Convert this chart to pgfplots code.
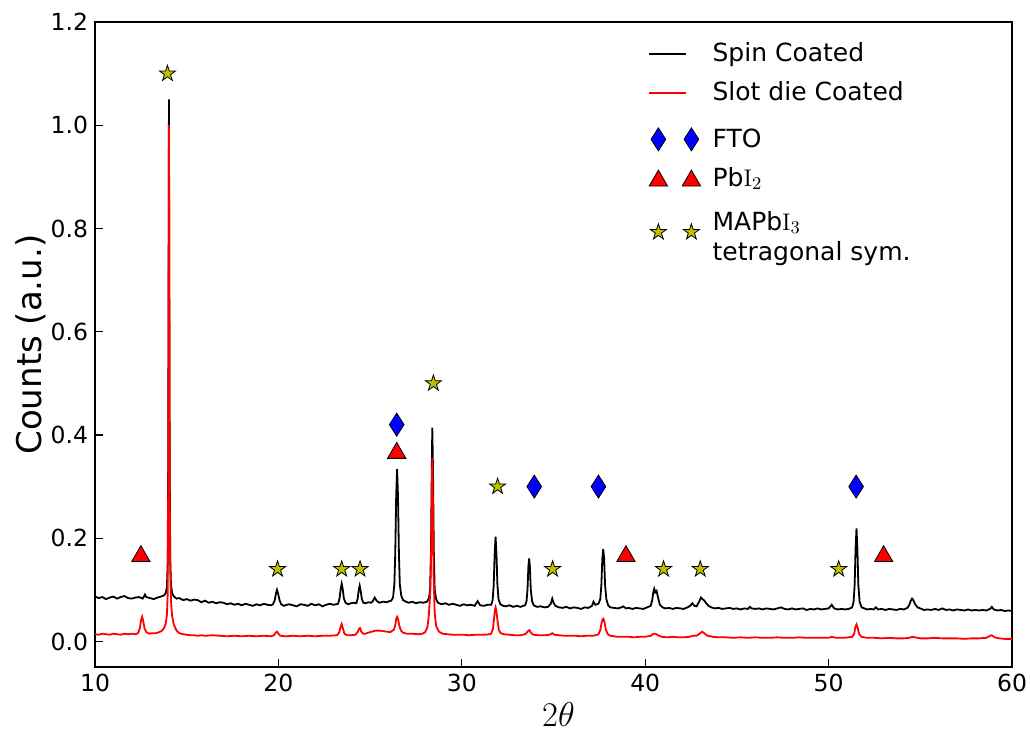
\documentclass[border=0pt]{standalone}
\usepackage[no-math]{fontspec}
\setmainfont{DejaVu Sans}
\usepackage{pgfplots}
\pgfplotsset{compat=1.18}
\definecolor{staryellow}{rgb}{0.75,0.75,0}

% filled five-pointed star, like matplotlib's '*'
\pgfdeclareplotmark{fstar}{%
  \pgfpathmoveto{\pgfpointpolar{90}{\pgfplotmarksize}}%
  \pgfpathlineto{\pgfpointpolar{126}{0.382\pgfplotmarksize}}%
  \pgfpathlineto{\pgfpointpolar{162}{\pgfplotmarksize}}%
  \pgfpathlineto{\pgfpointpolar{198}{0.382\pgfplotmarksize}}%
  \pgfpathlineto{\pgfpointpolar{234}{\pgfplotmarksize}}%
  \pgfpathlineto{\pgfpointpolar{270}{0.382\pgfplotmarksize}}%
  \pgfpathlineto{\pgfpointpolar{306}{\pgfplotmarksize}}%
  \pgfpathlineto{\pgfpointpolar{342}{0.382\pgfplotmarksize}}%
  \pgfpathlineto{\pgfpointpolar{18}{\pgfplotmarksize}}%
  \pgfpathlineto{\pgfpointpolar{54}{0.382\pgfplotmarksize}}%
  \pgfpathclose
  \pgfusepathqfillstroke}

\pgfplotsset{
  linelegend/.style={legend image code/.code={\draw[##1] (0cm,0cm) -- (0.65cm,0cm);}},
  marklegend/.style={legend image code/.code={\draw[##1] plot coordinates {(0.16cm,0cm) (0.74cm,0cm)};}},
  marklegendtall/.style={legend image code/.code={\path (0cm,0cm) (0cm,11pt); \draw[##1] plot coordinates {(0.16cm,0cm) (0.74cm,0cm)};}},
}

\begin{document}
\begin{tikzpicture}
\begin{axis}[
    name=ax,
    scale only axis,
    width=458.3pt, height=322.5pt,
    xmin=10, xmax=60, ymin=-0.05, ymax=1.2,
    xtick={10,20,...,60},
    ytick={0,0.2,...,1.2},
    yticklabel style={/pgf/number format/.cd, fixed, fixed zerofill, precision=1},
    /pgf/number format/assume math mode=true,
    tick label style={font=\fontsize{11.75}{13}\selectfont},
    tick align=inside,
    xtick pos=left, ytick pos=left,
    major tick length=4pt,
    tick style={black, line width=0.6pt},
    axis line style={line width=1pt},
    xlabel={$2\theta$},
    ylabel={Counts (a.u.)},
    xlabel style={font=\fontsize{16}{18}\selectfont, at={(axis description cs:0.5,0)}, anchor=center, inner sep=0pt, yshift=-23.6pt, xshift=2.5pt},
    ylabel style={font=\fontsize{17}{20}\selectfont, at={(axis description cs:-0.0699,0.5)}, anchor=center},
    legend style={draw=none, fill=none, at={(axis cs:40.15,1.168)}, anchor=north west,
        font=\fontsize{12.5}{15}\selectfont, row sep=4.5pt, column sep=4pt, inner sep=0pt},
    legend cell align=left,
]
\addplot[black, line width=0.9pt, linelegend] coordinates {
(10.0,.087) (10.2,.084) (10.4,.086) (10.6,.082) (10.8,.085) (11.0,.087) (11.2,.083) (11.4,.086) (11.6,.088) (11.8,.084)
(12.0,.083) (12.2,.085) (12.4,.086) (12.6,.083) (12.65,.086) (12.72,.091) (12.8,.086) (13.0,.084) (13.2,.082) (13.4,.085)
(13.6,.087) (13.75,.089) (13.85,.093) (13.92,.105) (13.96,.15) (13.99,.35) (14.01,.7) (14.03,1.05) (14.05,.7) (14.07,.35)
(14.1,.16) (14.14,.11) (14.2,.094) (14.3,.087) (14.45,.083) (14.6,.084) (14.8,.080) (15.0,.082) (15.2,.079) (15.4,.081)
(15.6,.080) (15.8,.076) (16.0,.079) (16.2,.075) (16.4,.077) (16.6,.074) (16.8,.076) (17.0,.075) (17.2,.072) (17.4,.074)
(17.6,.071) (17.8,.073) (18.0,.070) (18.2,.073) (18.4,.071) (18.6,.069) (18.8,.072) (19.0,.070) (19.2,.073) (19.4,.071)
(19.6,.070) (19.7,.072) (19.8,.080) (19.87,.094) (19.92,.100) (19.98,.093) (20.06,.080) (20.15,.072) (20.3,.069) (20.45,.071)
(20.6,.072) (20.8,.070) (21.0,.068) (21.2,.072) (21.4,.071) (21.6,.069) (21.8,.073) (22.0,.070) (22.2,.072) (22.4,.068)
(22.6,.071) (22.8,.073) (23.0,.071) (23.15,.072) (23.25,.073) (23.33,.083) (23.4,.103) (23.45,.112) (23.5,.103) (23.57,.083)
(23.66,.075) (23.8,.072) (23.95,.074) (24.1,.075) (24.25,.074) (24.32,.083) (24.38,.100) (24.43,.108) (24.48,.099) (24.55,.082)
(24.63,.075) (24.75,.074) (24.9,.076) (25.05,.075) (25.15,.078) (25.25,.085) (25.35,.079) (25.5,.075) (25.7,.077) (25.9,.076)
(26.05,.078) (26.15,.079) (26.25,.085) (26.32,.11) (26.37,.17) (26.42,.28) (26.47,.334) (26.52,.28) (26.57,.17) (26.62,.11)
(26.7,.088) (26.8,.080) (26.95,.077) (27.1,.075) (27.3,.077) (27.5,.074) (27.7,.076) (27.9,.075) (28.0,.076) (28.1,.077)
(28.2,.083) (28.27,.10) (28.32,.18) (28.36,.33) (28.39,.414) (28.43,.33) (28.47,.18) (28.52,.10) (28.6,.082) (28.7,.075)
(28.9,.072) (29.1,.074) (29.3,.071) (29.5,.073) (29.7,.071) (29.9,.069) (30.1,.072) (30.3,.070) (30.5,.071) (30.7,.069)
(30.86,.078) (31.0,.070) (31.2,.069) (31.4,.071) (31.6,.071) (31.68,.080) (31.74,.11) (31.79,.17) (31.84,.203) (31.89,.17)
(31.94,.11) (32.0,.082) (32.1,.072) (32.25,.069) (32.4,.068) (32.6,.070) (32.8,.067) (33.0,.069) (33.2,.067) (33.35,.069)
(33.45,.070) (33.53,.078) (33.58,.10) (33.63,.145) (33.67,.161) (33.71,.145) (33.76,.10) (33.83,.078) (33.92,.070) (34.1,.067)
(34.3,.068) (34.5,.066) (34.7,.067) (34.85,.073) (34.93,.083) (35.0,.075) (35.1,.069) (35.3,.066) (35.5,.065) (35.7,.067)
(35.9,.064) (36.1,.066) (36.3,.065) (36.5,.063) (36.7,.066) (36.9,.065) (37.1,.069) (37.18,.077) (37.28,.071) (37.37,.072)
(37.45,.073) (37.55,.082) (37.61,.11) (37.66,.16) (37.71,.179) (37.76,.16) (37.81,.11) (37.88,.082) (37.98,.070) (38.1,.066)
(38.3,.065) (38.5,.064) (38.7,.066) (38.8,.068) (38.95,.064) (39.1,.065) (39.3,.063) (39.5,.065) (39.7,.064) (39.9,.063)
(40.1,.066) (40.3,.069) (40.38,.080) (40.44,.095) (40.49,.102) (40.55,.095) (40.62,.098) (40.7,.085) (40.8,.071) (40.95,.066)
(41.1,.064) (41.3,.065) (41.5,.063) (41.7,.065) (41.9,.064) (42.1,.063) (42.3,.066) (42.45,.069) (42.57,.074) (42.68,.069)
(42.8,.068) (42.95,.078) (43.04,.085) (43.12,.082) (43.2,.080) (43.3,.075) (43.45,.069) (43.6,.066) (43.8,.064) (44.0,.065)
(44.2,.063) (44.4,.064) (44.6,.065) (44.8,.063) (45.0,.064) (45.2,.062) (45.4,.064) (45.6,.063) (45.7,.067) (45.8,.064)
(46.0,.063) (46.2,.064) (46.4,.062) (46.6,.064) (46.8,.063) (47.0,.062) (47.2,.064) (47.4,.066) (47.6,.063) (47.8,.062)
(48.0,.064) (48.2,.062) (48.4,.063) (48.6,.064) (48.8,.061) (49.0,.063) (49.2,.062) (49.4,.064) (49.6,.062) (49.8,.063)
(50.0,.064) (50.17,.071) (50.3,.064) (50.5,.062) (50.7,.063) (50.9,.062) (51.1,.063) (51.28,.066) (51.36,.076) (51.42,.11)
(51.47,.18) (51.52,.219) (51.57,.18) (51.62,.11) (51.69,.077) (51.8,.066) (51.95,.064) (52.1,.062) (52.3,.063) (52.45,.062)
(52.57,.066) (52.7,.062) (52.9,.063) (53.1,.061) (53.3,.063) (53.5,.062) (53.7,.061) (53.9,.063) (54.1,.062) (54.3,.065)
(54.4,.071) (54.48,.079) (54.55,.083) (54.62,.080) (54.72,.072) (54.85,.066) (55.0,.064) (55.2,.061) (55.4,.062) (55.6,.061)
(55.8,.063) (56.0,.061) (56.2,.064) (56.4,.061) (56.6,.062) (56.8,.060) (57.0,.062) (57.2,.061) (57.4,.060) (57.6,.062)
(57.8,.060) (58.0,.061) (58.2,.060) (58.4,.061) (58.6,.060) (58.8,.063) (58.9,.067) (59.0,.062) (59.2,.060) (59.4,.061)
(59.6,.059) (59.8,.060) (60.0,.059)
};
\addlegendentry{Spin Coated}
\addplot[red, line width=0.9pt, linelegend] coordinates {
(10.0,.014) (10.2,.013) (10.4,.015) (10.6,.014) (10.8,.013) (11.0,.015) (11.2,.014) (11.4,.013) (11.6,.015) (11.8,.014)
(12.0,.015) (12.2,.014) (12.35,.016) (12.45,.027) (12.52,.043) (12.57,.048) (12.62,.041) (12.7,.025) (12.8,.018) (12.95,.015)
(13.1,.016) (13.3,.016) (13.5,.018) (13.65,.021) (13.75,.025) (13.85,.034) (13.92,.052) (13.96,.09) (13.99,.3) (14.01,.65)
(14.03,1.0) (14.05,.65) (14.07,.3) (14.1,.14) (14.14,.08) (14.2,.05) (14.3,.032) (14.45,.021) (14.6,.016) (14.8,.014)
(15.0,.013) (15.2,.012) (15.4,.012) (15.6,.011) (15.8,.012) (16.0,.011) (16.4,.012) (16.8,.011) (17.2,.010) (17.6,.011)
(18.0,.010) (18.4,.011) (18.8,.010) (19.2,.011) (19.6,.010) (19.75,.012) (19.85,.017) (19.92,.019) (20.0,.015) (20.1,.011)
(20.4,.010) (20.8,.011) (21.2,.010) (21.6,.011) (22.0,.010) (22.4,.011) (22.8,.011) (23.2,.012) (23.32,.018) (23.4,.030)
(23.45,.034) (23.51,.026) (23.6,.015) (23.75,.012) (23.95,.012) (24.2,.013) (24.32,.018) (24.4,.025) (24.45,.026) (24.52,.019)
(24.62,.015) (24.75,.015) (24.9,.017) (25.1,.019) (25.3,.021) (25.5,.021) (25.7,.020) (25.9,.019) (26.1,.018) (26.3,.023)
(26.38,.033) (26.43,.045) (26.47,.048) (26.52,.044) (26.58,.032) (26.68,.021) (26.8,.017) (27.0,.015) (27.3,.015) (27.6,.014)
(27.85,.015) (28.0,.018) (28.12,.027) (28.2,.05) (28.27,.09) (28.32,.15) (28.36,.28) (28.39,.355) (28.42,.28) (28.46,.13)
(28.52,.055) (28.6,.03) (28.75,.019) (28.95,.015) (29.2,.014) (29.5,.013) (29.8,.013) (30.1,.013) (30.4,.012) (30.7,.013)
(31.0,.013) (31.3,.013) (31.5,.014) (31.6,.015) (31.7,.025) (31.76,.046) (31.81,.062) (31.84,.066) (31.88,.060) (31.94,.042)
(32.02,.022) (32.12,.016) (32.3,.014) (32.6,.013) (32.9,.012) (33.2,.012) (33.45,.014) (33.56,.018) (33.64,.021) (33.69,.022)
(33.76,.017) (33.9,.013) (34.2,.012) (34.5,.012) (34.8,.013) (34.93,.016) (35.05,.013) (35.3,.012) (35.6,.011) (35.9,.011)
(36.2,.011) (36.5,.010) (36.8,.011) (37.1,.011) (37.3,.012) (37.45,.014) (37.55,.022) (37.62,.036) (37.68,.043) (37.72,.044)
(37.78,.037) (37.86,.022) (37.96,.014) (38.1,.011) (38.3,.010) (38.5,.009) (38.8,.009) (39.1,.009) (39.4,.008) (39.7,.009)
(40.0,.009) (40.3,.011) (40.45,.015) (40.55,.015) (40.7,.012) (40.9,.009) (41.2,.008) (41.5,.009) (41.8,.008) (42.1,.008)
(42.4,.009) (42.6,.011) (42.8,.011) (43.0,.016) (43.1,.019) (43.25,.015) (43.4,.011) (43.7,.009) (44.0,.008) (44.4,.008)
(44.8,.007) (45.2,.008) (45.6,.007) (46.0,.008) (46.4,.007) (46.8,.007) (47.2,.008) (47.6,.007) (48.0,.007) (48.4,.008)
(48.8,.007) (49.2,.007) (49.6,.007) (50.0,.007) (50.17,.009) (50.4,.007) (50.8,.007) (51.1,.008) (51.3,.009) (51.4,.016)
(51.46,.028) (51.52,.033) (51.58,.027) (51.66,.015) (51.78,.009) (51.95,.008) (52.1,.007) (52.5,.007) (52.9,.006) (53.3,.007)
(53.7,.006) (54.1,.006) (54.4,.007) (54.55,.009) (54.7,.008) (55.0,.006) (55.4,.006) (55.8,.007) (56.2,.006) (56.6,.006)
(57.0,.006) (57.4,.005) (57.8,.006) (58.2,.006) (58.6,.007) (58.8,.011) (58.9,.012) (59.05,.008) (59.3,.006) (59.6,.005)
(60.0,.005)
};
\addlegendentry{Slot die Coated}
% FTO
\addplot[only marks, mark=diamond*, mark size=5.75pt, mark options={xscale=0.85, fill=blue, draw=black, line width=0.4pt}, marklegendtall] coordinates {
(26.45,0.42) (33.95,0.30) (37.45,0.30) (51.5,0.30)
};
\addlegendentry{FTO}
% PbI2
\addplot[only marks, mark=triangle*, mark size=5.3pt, mark options={yshift=-1.3pt, fill=red, draw=black, line width=0.4pt}, marklegend] coordinates {
(12.5,0.17) (26.45,0.37) (38.95,0.17) (53.0,0.17)
};
\addlegendentry{Pb$\mathrm{I}_2$}
% MAPbI3
\addplot[only marks, mark=fstar, mark size=4.2pt, mark options={fill=staryellow, draw=black, line width=0.4pt}, marklegend] coordinates {
(13.95,1.1) (19.95,0.14) (23.45,0.14) (24.45,0.14) (28.45,0.5) (31.95,0.3) (34.95,0.14) (41.0,0.14) (43.0,0.14) (50.55,0.14)
};
\addlegendentry{\raisebox{-2.5pt}[24.5pt][4.5pt]{\begin{tabular}[b]{@{}l@{}}MAPb$\mathrm{I}_3$\\tetragonal sym.\end{tabular}}}
\end{axis}
\pgfresetboundingbox
\path[use as bounding box] ([xshift=-47.5pt,yshift=-32pt]ax.south west) rectangle ([xshift=9pt,yshift=11pt]ax.north east);
\end{tikzpicture}
\end{document}
